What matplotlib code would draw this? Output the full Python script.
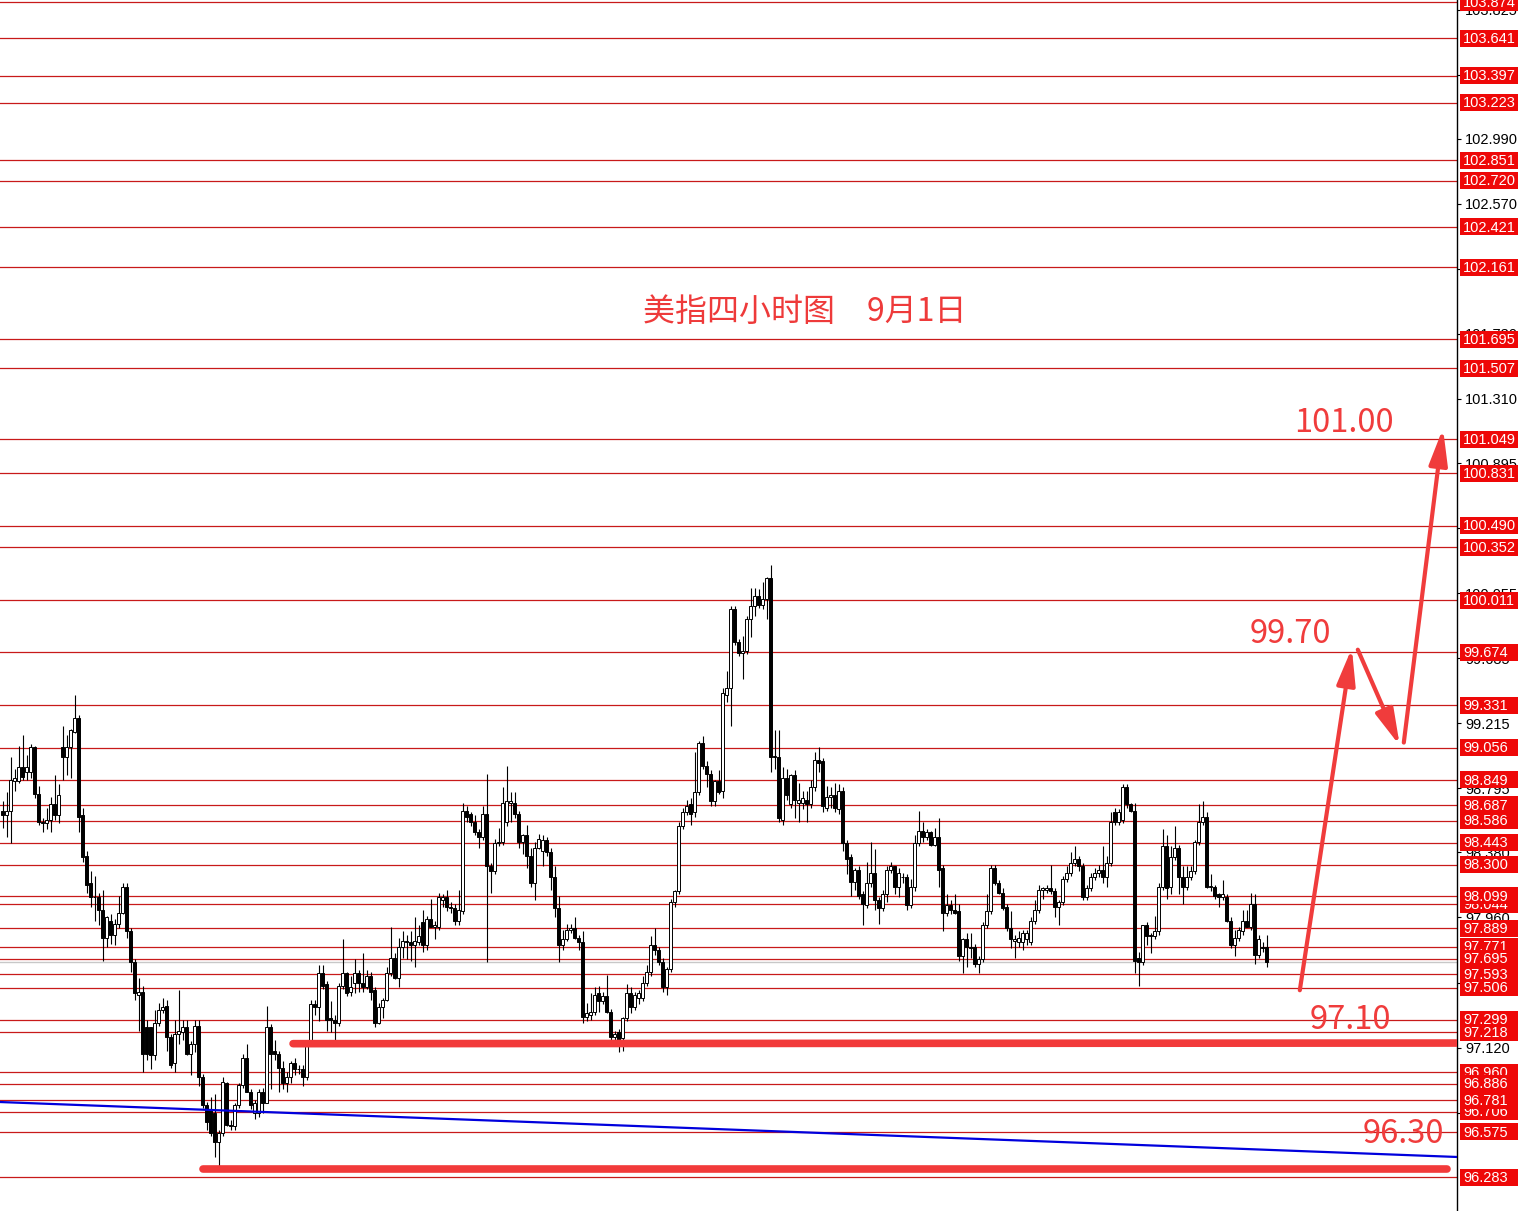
import matplotlib
matplotlib.use('Agg')
import matplotlib.pyplot as plt
import matplotlib.transforms as mtrans
from matplotlib.patches import Rectangle
import numpy as np

# ---------------- data ----------------
opens = [98.65,98.62,98.65,98.84,98.84,98.93,98.90,98.90,99.06,98.76,
98.58,98.57,98.59,98.69,98.62,99.06,99.00,99.06,99.16,99.25,
98.62,98.36,98.18,98.09,98.09,98.01,97.83,97.94,97.85,97.92,
97.99,98.16,97.87,97.67,97.46,97.48,97.25,97.25,97.07,97.28,
97.36,97.39,97.19,97.02,97.21,97.22,97.25,97.08,97.14,97.26,
96.93,96.75,96.72,96.70,96.51,96.57,96.89,96.62,96.61,96.75,
96.88,97.05,96.83,96.70,96.70,96.83,96.76,97.25,97.10,97.08,
96.99,96.89,96.93,97.02,96.98,96.98,96.93,97.15,97.40,97.38,
97.60,97.53,97.31,97.30,97.28,97.52,97.60,97.48,97.54,97.60,
97.54,97.51,97.58,97.49,97.28,97.38,97.43,97.60,97.70,97.57,
97.77,97.81,97.80,97.78,97.80,97.93,97.78,97.95,97.90,97.90,
98.07,98.09,98.03,98.02,97.94,98.00,98.65,98.63,98.58,98.51,
98.48,98.63,98.29,98.26,98.44,98.45,98.58,98.70,98.70,98.63,
98.45,98.49,98.36,98.18,98.41,98.39,98.46,98.38,98.22,98.02,
97.78,97.82,97.88,97.89,97.83,97.80,97.32,97.33,97.35,97.47,
97.42,97.45,97.35,97.19,97.22,97.18,97.31,97.47,97.38,97.44,
97.44,97.54,97.61,97.78,97.75,97.67,97.51,97.63,98.06,98.13,
98.55,98.64,98.69,98.64,98.77,99.09,98.94,98.89,98.71,98.84,
98.78,99.40,99.44,99.95,99.74,99.67,99.68,99.89,99.97,100.04,
99.98,100.02,100.15,99.00,99.00,98.59,98.86,98.69,98.88,98.70,
98.70,98.72,98.69,98.80,98.98,98.97,98.67,98.74,98.75,98.66,
98.78,98.44,98.35,98.19,98.27,98.11,98.04,98.18,98.25,98.07,
98.02,98.11,98.27,98.29,98.16,98.22,98.22,98.04,98.16,98.44,
98.52,98.48,98.51,98.43,98.48,98.28,97.99,98.04,98.01,98.00,
97.71,97.82,97.77,97.77,97.66,97.69,97.91,98.00,98.28,98.18,
98.12,98.03,97.89,97.81,97.80,97.80,97.82,97.80,97.94,98.01,
98.14,98.14,98.15,98.13,98.03,98.06,98.21,98.25,98.31,98.34,
98.29,98.09,98.15,98.22,98.25,98.27,98.22,98.31,98.64,98.58,
98.59,98.80,98.69,98.65,97.70,97.67,97.91,97.85,97.84,97.87,
98.16,98.42,98.16,98.35,98.41,98.22,98.16,98.22,98.26,98.45,
98.58,98.61,98.16,98.16,98.11,98.09,98.09,97.94,97.78,97.83,
97.87,97.94,97.90,98.05,97.72,97.77,97.77]

highs = [98.71,98.77,99.00,98.92,99.07,99.14,99.01,99.08,99.07,98.81,
98.60,98.67,98.74,98.88,98.82,99.20,99.14,99.18,99.40,99.27,
98.67,98.39,98.26,98.23,98.12,98.14,97.97,97.98,97.95,98.10,
98.18,98.18,97.89,97.69,97.57,97.52,97.30,97.25,97.36,97.41,
97.44,97.43,97.21,97.30,97.49,97.30,97.30,97.16,97.30,97.30,
96.95,96.77,96.80,96.82,96.59,96.93,96.90,96.65,96.76,96.89,
97.08,97.14,96.85,96.78,96.85,96.86,97.39,97.27,97.17,97.10,
97.03,96.96,97.03,97.05,97.01,97.01,97.17,97.43,97.43,97.65,
97.65,97.55,97.42,97.33,97.54,97.82,97.61,97.58,97.69,97.62,
97.73,97.62,97.61,97.51,97.41,97.44,97.64,97.90,97.73,97.83,
97.87,97.85,97.87,97.96,97.91,98.01,97.97,98.08,97.94,98.12,
98.11,98.14,98.06,98.05,98.14,98.70,98.68,98.64,98.62,98.53,
98.68,98.89,98.31,98.47,98.54,98.80,98.94,98.77,98.77,98.65,
98.50,98.56,98.41,98.45,98.50,98.49,98.48,98.41,98.29,98.10,
97.88,97.92,97.92,97.96,97.85,97.87,97.41,97.47,97.51,97.52,
97.48,97.59,97.37,97.23,97.24,97.32,97.53,97.51,97.48,97.49,
97.58,97.65,97.84,97.89,97.77,97.70,97.64,98.08,98.14,98.58,
98.67,98.72,98.73,99.03,99.10,99.13,98.97,98.91,98.85,98.91,
99.44,99.55,99.97,99.97,99.76,99.78,99.91,100.09,100.09,100.08,
100.13,100.16,100.24,99.17,99.17,98.93,98.92,98.89,98.91,98.83,
98.78,98.78,98.85,99.03,99.06,98.99,98.81,98.80,98.83,98.82,
98.80,98.46,98.37,98.28,98.29,98.13,98.32,98.45,98.40,98.09,
98.14,98.29,98.32,98.29,98.28,98.25,98.24,98.21,98.49,98.65,
98.58,98.53,98.52,98.54,98.60,98.30,98.11,98.07,98.11,98.05,
97.83,97.86,97.86,97.79,97.71,97.93,98.11,98.30,98.30,98.20,
98.15,98.05,98.00,97.85,97.87,97.88,97.88,97.96,98.07,98.17,
98.16,98.17,98.30,98.15,98.07,98.23,98.29,98.38,98.42,98.36,
98.31,98.17,98.25,98.28,98.30,98.42,98.36,98.64,98.67,98.66,
98.82,98.82,98.70,98.70,97.74,97.91,97.93,97.86,97.97,98.18,
98.53,98.49,98.42,98.55,98.43,98.29,98.29,98.29,98.46,98.69,
98.71,98.64,98.24,98.17,98.12,98.20,98.11,97.96,97.88,97.90,
98.01,98.01,98.12,98.11,97.85,97.80,97.85]

lows = [98.54,98.48,98.44,98.78,98.83,98.85,98.85,98.86,98.73,98.56,
98.51,98.53,98.51,98.59,98.57,98.85,98.88,98.86,99.15,98.51,
98.32,98.12,98.03,97.94,97.91,97.68,97.77,97.79,97.78,97.89,
97.98,97.83,97.61,97.43,97.23,96.96,97.04,96.98,97.04,97.26,
97.34,97.10,96.99,96.96,97.14,97.17,97.07,96.94,97.09,96.87,
96.73,96.59,96.55,96.41,96.35,96.55,96.61,96.59,96.59,96.73,
96.86,96.83,96.72,96.66,96.67,96.70,96.76,96.85,97.04,96.83,
96.85,96.83,96.89,96.94,96.95,96.87,96.91,97.14,97.33,97.29,
97.50,97.23,97.22,97.16,97.26,97.50,97.45,97.45,97.47,97.48,
97.48,97.50,97.43,97.25,97.27,97.31,97.42,97.58,97.56,97.51,
97.70,97.69,97.68,97.64,97.78,97.74,97.75,97.92,97.82,97.88,
98.03,98.00,97.99,97.91,97.91,97.98,98.58,98.55,98.49,98.41,
98.46,97.67,98.12,98.24,98.42,98.43,98.55,98.58,98.60,98.41,
98.37,98.28,98.16,98.07,98.40,98.29,98.36,98.14,97.96,97.67,
97.75,97.81,97.86,97.82,97.75,97.28,97.29,97.30,97.33,97.35,
97.40,97.34,97.14,97.14,97.09,97.10,97.29,97.34,97.36,97.40,
97.42,97.52,97.58,97.72,97.65,97.48,97.46,97.61,98.03,98.11,
98.53,98.62,98.56,98.61,98.75,98.92,98.80,98.68,98.68,98.76,
98.73,99.35,99.20,99.72,99.65,99.50,99.66,99.77,99.91,99.96,
99.95,99.89,98.90,98.92,98.58,98.56,98.72,98.67,98.60,98.58,
98.66,98.58,98.67,98.78,98.90,98.64,98.65,98.67,98.64,98.63,
98.39,98.24,98.10,98.14,98.08,97.91,98.02,98.16,98.01,97.92,
98.00,98.06,98.25,98.11,98.09,98.18,98.01,98.02,98.13,98.42,
98.45,98.46,98.42,98.42,98.16,97.87,97.97,97.98,97.98,97.68,
97.60,97.64,97.70,97.64,97.60,97.67,97.89,97.98,98.17,98.11,
98.01,97.87,97.76,97.70,97.77,97.75,97.78,97.78,97.92,97.99,
98.08,98.12,98.11,97.96,97.91,98.04,98.19,98.23,98.29,98.26,
98.07,98.07,98.13,98.20,98.22,98.18,98.16,98.29,98.56,98.56,
98.57,98.67,98.64,97.60,97.52,97.65,97.78,97.73,97.82,97.85,
98.14,98.08,98.11,98.33,98.11,98.05,98.14,98.20,98.24,98.43,
98.56,98.15,98.13,98.08,98.03,98.07,97.93,97.76,97.71,97.81,
97.85,97.90,97.88,97.66,97.70,97.74,97.64]

closes = [98.62,98.65,98.85,98.86,98.93,98.87,98.93,99.06,98.76,98.58,
98.57,98.59,98.69,98.62,98.75,99.00,99.06,99.17,99.25,98.61,
98.35,98.17,98.09,98.09,98.01,97.83,97.96,97.85,97.92,97.99,
98.16,97.87,97.67,97.47,97.48,97.08,97.08,97.07,97.28,97.36,
97.38,97.19,97.01,97.21,97.23,97.25,97.08,97.14,97.26,96.93,
96.75,96.64,96.57,96.51,96.57,96.90,96.62,96.61,96.75,96.88,
97.05,96.83,96.75,96.76,96.83,96.76,97.25,97.08,97.08,96.99,
96.89,96.93,97.02,96.98,96.98,96.93,97.15,97.40,97.38,97.60,
97.52,97.30,97.30,97.28,97.52,97.60,97.47,97.51,97.60,97.54,
97.51,97.58,97.48,97.28,97.38,97.43,97.60,97.70,97.57,97.77,
97.81,97.80,97.78,97.81,97.84,97.78,97.95,97.90,97.91,98.09,
98.09,98.03,98.02,97.94,98.01,98.65,98.61,98.58,98.51,98.48,
98.63,98.29,98.26,98.44,98.45,98.70,98.71,98.71,98.63,98.45,
98.49,98.36,98.18,98.41,98.47,98.46,98.38,98.22,98.02,97.78,
97.82,97.88,97.89,97.83,97.80,97.32,97.34,97.35,97.46,97.42,
97.45,97.35,97.19,97.21,97.17,97.31,97.47,97.38,97.46,97.47,
97.54,97.61,97.78,97.75,97.67,97.51,97.63,98.06,98.13,98.55,
98.64,98.68,98.63,98.77,99.09,98.94,98.89,98.71,98.84,98.77,
99.41,99.44,99.95,99.74,99.67,99.68,99.89,99.97,100.04,99.98,
100.02,100.15,99.00,99.00,98.60,98.86,98.75,98.88,98.72,98.72,
98.73,98.69,98.80,98.98,98.96,98.68,98.74,98.75,98.67,98.78,
98.44,98.34,98.19,98.27,98.10,98.05,98.18,98.25,98.07,98.02,
98.11,98.27,98.29,98.16,98.25,98.22,98.04,98.16,98.44,98.52,
98.48,98.51,98.43,98.48,98.27,97.99,98.04,98.01,97.99,97.71,
97.82,97.77,97.76,97.66,97.69,97.91,98.00,98.28,98.18,98.12,
98.02,97.89,97.82,97.82,97.83,97.86,97.86,97.94,98.01,98.14,
98.15,98.15,98.13,98.03,98.06,98.21,98.25,98.31,98.34,98.29,
98.09,98.15,98.22,98.25,98.27,98.22,98.31,98.58,98.58,98.64,
98.80,98.69,98.65,97.68,97.67,97.91,97.84,97.84,97.87,98.16,
98.42,98.15,98.35,98.41,98.22,98.16,98.22,98.26,98.45,98.58,
98.61,98.16,98.16,98.10,98.09,98.11,97.94,97.78,97.83,97.88,
97.94,97.90,98.05,97.72,97.82,97.76,97.67]

# horizontal price levels (red lines with red tags)
levels = [103.874, 103.641, 103.397, 103.223, 102.851, 102.720, 102.421, 102.161,
          101.695, 101.507, 101.049, 100.831, 100.490, 100.352, 100.011, 99.674,
          99.331, 99.056, 98.849, 98.687, 98.586, 98.443, 98.300, 98.044, 98.099,
          97.889, 97.771, 97.695, 97.593, 97.506, 97.299, 97.218, 96.960, 96.886,
          96.706, 96.781, 96.575, 96.283]

# axis price ticks
tick_values = [103.825, 103.405, 102.990, 102.570, 102.150, 101.730, 101.310, 100.895,
               100.475, 100.055, 99.635, 99.215, 98.795, 98.380, 97.960, 97.540,
               97.120, 96.700]
tick_labels = ['103.825', '103.405', '102.990', '102.570', '102.150', '101.730', '101.310',
               '100.895', '100.475', '100.055', '99.635', '99.215', '98.795', '98.380',
               '97.960', '97.540', '97.120', '96.700']

current_price = 97.67
support_upper = 97.145
support_lower = 96.335
trend_start = (-0.7, 96.768)
trend_end = (363.6, 96.413)

# forecast path (bar index, price)
path_x = [324.3, 337.3, 338.8, 349.3, 350.3, 360.1]
path_y = [97.49, 99.70, 99.69, 99.07, 99.09, 101.12]

target_labels = ['101.00', '99.70', '97.10', '96.30']
title = '美指四小时图\u30009月1日'

# ---------------- figure ----------------
W, H = 1518, 1211
fig = plt.figure(figsize=(W / 100, H / 100), dpi=100)
fig.patch.set_facecolor('white')
ax = fig.add_axes([0, 0, 1457 / W, 1])
ax.set_facecolor('white')
ax.set_xlim(-0.675, 363.6)
ax.set_ylim(96.064, 103.887)

for s in ['top', 'left', 'bottom']:
    ax.spines[s].set_visible(False)
ax.spines['right'].set_color('black')
ax.spines['right'].set_linewidth(1.0)
ax.set_xticks([])

ax.yaxis.tick_right()
ax.set_yticks(tick_values)
ax.set_yticklabels(tick_labels, family='Liberation Sans')
ax.tick_params(axis='y', direction='out', length=3, width=0.8, pad=3,
               labelsize=10.5, colors='black')

# red horizontal lines
ax.hlines(levels, -1, 365, color='#c81a1a', lw=0.9, zorder=1)
ax.axhline(current_price, color='#c8c8c8', lw=1.0, zorder=1)

# candles
o = np.array(opens); h = np.array(highs); l = np.array(lows); c = np.array(closes)
h = np.maximum(h, np.maximum(o, c)); l = np.minimum(l, np.minimum(o, c))
x = np.arange(len(o))
ax.vlines(x, l, h, color='black', lw=0.8, zorder=3)
bot = np.minimum(o, c)
hgt = np.maximum(np.abs(c - o), 0.002)
cols = np.where(c >= o, 'white', 'black')
ax.bar(x, hgt, bottom=bot, width=0.72, color=cols, edgecolor='black',
       linewidth=0.7, zorder=4)

# trend line and thick support lines
ax.plot([trend_start[0], trend_end[0]], [trend_start[1], trend_end[1]],
        color='#0000dd', lw=1.6, zorder=5)
ax.plot([72.6, 363.6], [support_upper, support_upper + 0.004], color='#f23a3a',
        lw=5.5, solid_capstyle='round', zorder=6)
ax.plot([50.1, 361.1], [support_lower, support_lower], color='#f23a3a',
        lw=5.5, solid_capstyle='round', zorder=6)

# forecast arrows
acol = '#f03c3c'
for k in range(0, len(path_x), 2):
    ax.annotate('', xy=(path_x[k + 1], path_y[k + 1]), xytext=(path_x[k], path_y[k]),
                arrowprops=dict(arrowstyle='-|>,head_length=1.1,head_width=0.28',
                                color=acol, lw=3.0, mutation_scale=20,
                                shrinkA=0, shrinkB=0), zorder=7)

# red price tags on the right
tr = mtrans.blended_transform_factory(fig.transFigure, ax.transData)
tag_h = 17 / 154.8
for k, lv in enumerate(levels):
    ax.add_patch(Rectangle((1460 / W, lv - tag_h / 2), (1518 - 1460) / W, tag_h,
                           transform=tr, facecolor='#ee0808', edgecolor='none',
                           clip_on=False, zorder=10 + k))
    ax.text(1463 / W, lv - 0.004, f'{lv:.3f}', transform=tr, color='white', fontsize=10.5,
            va='center', ha='left', clip_on=False, zorder=10 + k + 0.5,
            family='Liberation Sans')

cjk = ['Noto Sans CJK SC', 'DejaVu Sans']
fig.text(805 / W, 1 - 312 / H, title, ha='center', va='center', fontsize=23,
         color='#ee3a3a', family=cjk)

label_pos = [(1344, 423), (1290, 634), (1350, 1020), (1403, 1134)]
for txt, (px, py) in zip(target_labels, label_pos):
    fig.text(px / W, 1 - py / H, txt, ha='center', va='center', fontsize=23.5,
             color='#f03c3c', family=cjk)

fig.savefig('out.png', dpi=100, facecolor='white')
